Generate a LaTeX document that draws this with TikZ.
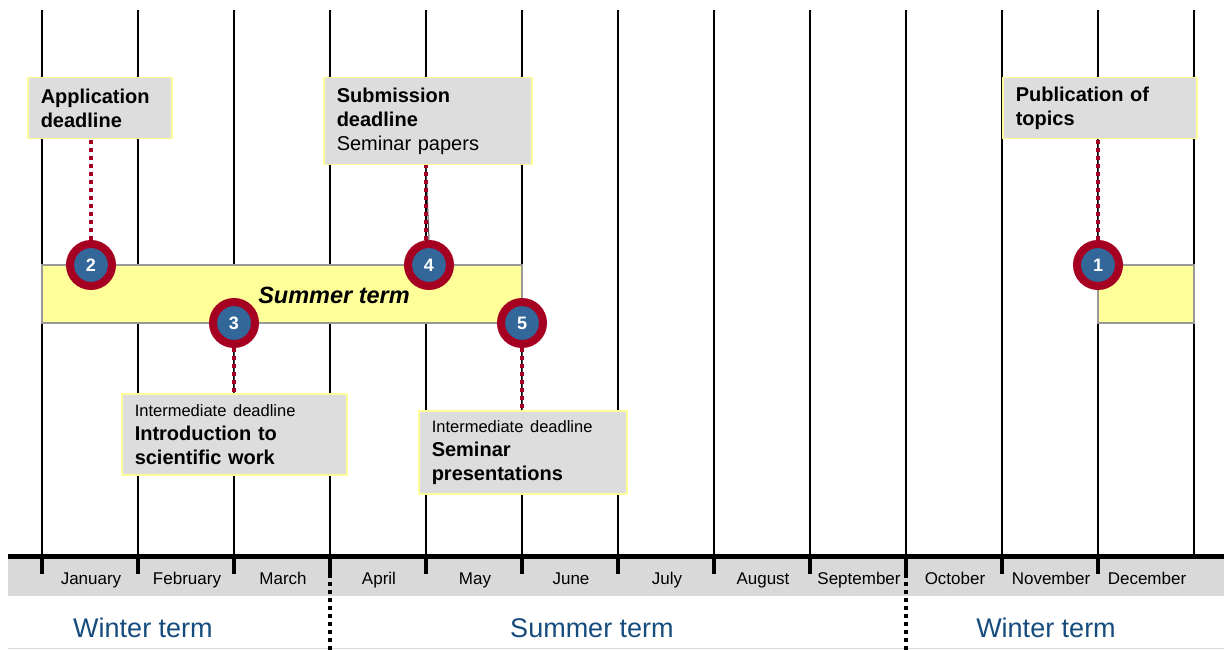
\documentclass[tikz,border=0pt]{standalone}
\usepackage{fontspec}
\setmainfont{Liberation Sans}
\definecolor{msred}{RGB}{165,0,33}
\definecolor{msblue}{RGB}{51,102,153}
\definecolor{termyellow}{RGB}{255,255,153}
\definecolor{boxgray}{RGB}{221,221,221}
\definecolor{bandgray}{RGB}{217,217,217}
\definecolor{termblue}{RGB}{22,75,125}

\tikzset{
  infobox/.style={draw=termyellow, fill=boxgray, line width=1.5pt, anchor=north west,
    align=left, inner xsep=13pt, inner ysep=0pt,
    font=\fontsize{20}{24}\selectfont\bfseries},
  milestone/.style={circle, fill=msblue, draw=msred, line width=8pt, minimum size=42pt,
    inner sep=0pt, text=white, font=\fontsize{18}{18}\selectfont\bfseries},
  termbar/.style={draw=black!40, fill=termyellow, line width=2pt},
  link/.style={draw=msred, line width=4pt, dash pattern=on 4pt off 4pt},
  monthlabel/.style={anchor=base, font=\fontsize{17}{17}\selectfont},
  termlabel/.style={text=termblue, font=\fontsize{27}{27}\selectfont},
}

\begin{document}
\begin{tikzpicture}[x=1pt,y=-1pt]
  \useasboundingbox[fill=white] (0,0) rectangle (1224,650);

  % month grid
  \foreach \i in {0,...,12}
    \draw[line width=1.2pt] (42+96*\i,10) -- (42+96*\i,556);

  % timeline band
  \fill[bandgray] (8,556) rectangle (1224,596);
  \draw[black!15, line width=1pt] (8,648) -- (1224,648);
  \draw[line width=5pt] (8,556) -- (1224,556);
  \foreach \i in {0,...,11}
    \draw[line width=4pt] (42+96*\i,556) -- (42+96*\i,574);
  \foreach \m [count=\i] in {January,February,March,April,May,June,July,August,September,October,November,December}
    \node[monthlabel] (month\i) at (96*\i-5,584) {\m};

  % term boundaries
  \draw[line width=3.5pt, dash pattern=on 4pt off 4pt] (330,558) -- (330,650);
  \draw[line width=3.5pt, dash pattern=on 4pt off 4pt] (906,558) -- (906,650);
  \node[termlabel] (winter1) at (143,628) {Winter term};
  \node[termlabel] (summer) at (592,628) {Summer term};
  \node[termlabel] (winter2) at (1046,628) {Winter term};

  % term bars
  \draw[termbar] (42,265) rectangle (522,323);
  \node[font=\fontsize{23.5}{24}\selectfont\bfseries\itshape] (summerbar) at (334,295) {Summer term};
  \draw[termbar] (1098,265) rectangle (1194,323);

  % boxes
  \node[infobox, text width=118pt, minimum height=61pt] (appl) at (27,77)
    {Application\\deadline};
  \node[infobox, text width=182pt, minimum height=87pt] (subm) at (323,77)
    {Submission\\deadline\\{\mdseries Seminar papers}};
  \node[infobox, text width=168pt, minimum height=61pt] (publ) at (1002,77)
    {Publication of\\topics};
  \node[infobox, text width=199pt, minimum height=81pt] (intro) at (121,393)
    {{\fontsize{16.5}{20}\selectfont\mdseries Intermediate deadline}\\Introduction to\\scientific work};
  \node[infobox, text width=182pt, minimum height=83pt] (pres) at (418,410)
    {{\fontsize{16.5}{20}\selectfont\mdseries Intermediate deadline}\\Seminar\\presentations};

  % milestones
  \node[milestone] (m1) at (1098,265) {1};
  \node[milestone] (m2) at (91,265) {2};
  \node[milestone] (m3) at (234,323) {3};
  \node[milestone] (m4) at (429,265) {4};
  \node[milestone] (m5) at (522,323) {5};

  % connectors
  \draw[black!70, line width=1pt] (m1.north) -- (publ.south -| m1);
  \draw[link] (m1.north) -- (publ.south -| m1);
  \draw[link] (m2.north) -- (appl.south -| m2);
  \draw[black!70, line width=1pt] (m3.south) -- (intro.north -| m3);
  \draw[link] (m3.south) -- (intro.north -| m3);
  \draw[black!70, line width=1pt] (m4.north) -- (subm.south -| 426,0);
  \draw[link] ([xshift=-3pt]m4.north) -- (subm.south -| 426,0);
  \draw[black!70, line width=1pt] (m5.south) -- (pres.north -| m5);
  \draw[link] (m5.south) -- (pres.north -| m5);
\end{tikzpicture}
\end{document}
